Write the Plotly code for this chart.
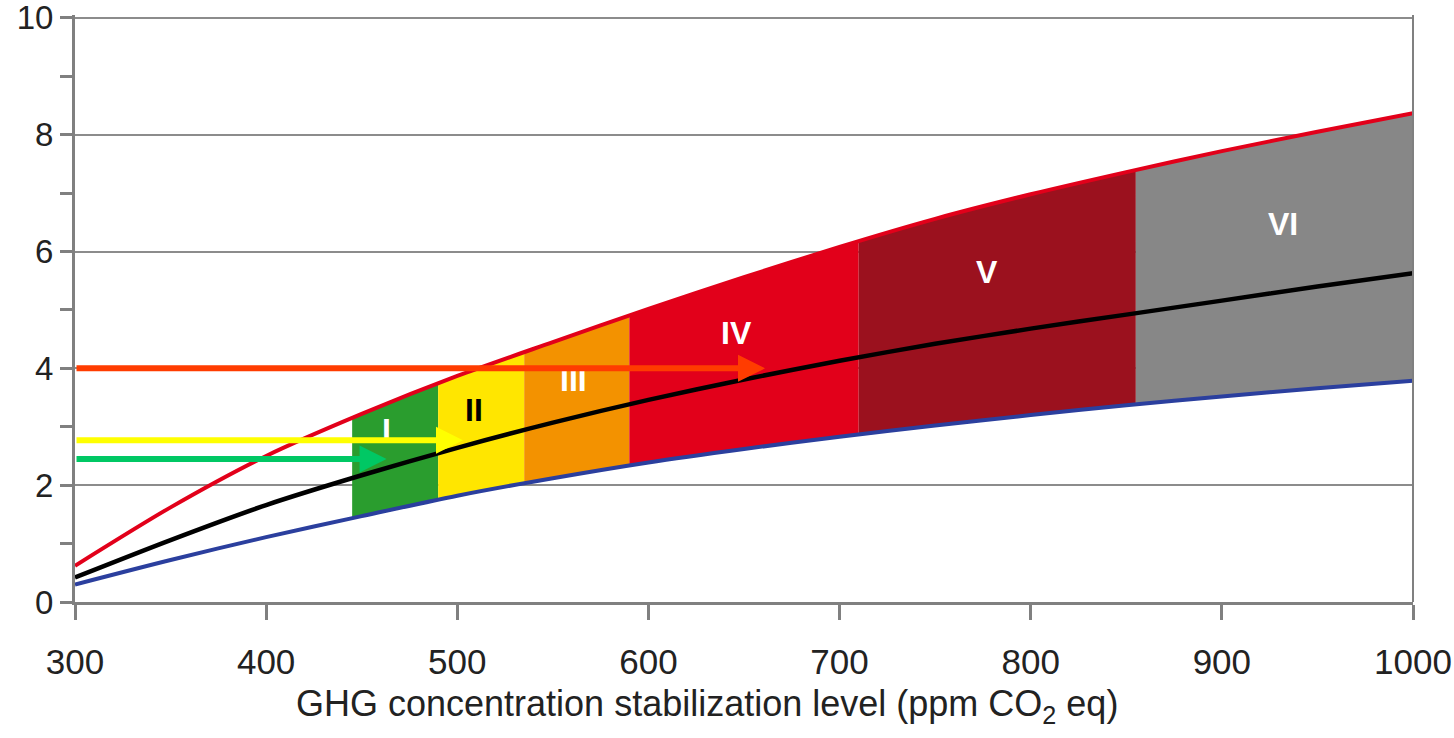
import numpy as np
import plotly.graph_objects as go

# ---- data ----
conc = [300, 350, 400, 450, 500, 550, 600, 650, 700, 750, 800, 850, 900, 950, 1000]
upper = [0.62, 1.62, 2.50, 3.22, 3.87, 4.45, 5.02, 5.56, 6.08, 6.56, 6.98, 7.36, 7.72, 8.05, 8.37]
best = [0.42, 1.06, 1.66, 2.17, 2.64, 3.07, 3.46, 3.81, 4.13, 4.42, 4.68, 4.92, 5.16, 5.40, 5.63]
lower = [0.30, 0.72, 1.11, 1.47, 1.82, 2.12, 2.39, 2.62, 2.83, 3.02, 3.20, 3.37, 3.52, 3.66, 3.79]

cat_names = ["I", "II", "III", "IV", "V", "VI"]
cat_bounds = [445, 490, 535, 590, 710, 855, 1000]
cat_colors = ["#2a9d2e", "#ffe600", "#f39200", "#e2001a", "#9b111e", "#878787"]
cat_label_colors = ["white", "black", "white", "white", "white", "white"]
cat_label_x = [463, 509, 561, 646, 777, 932]
cat_label_y = [2.95, 3.29, 3.80, 4.60, 5.65, 6.47]

arrow_y = [4.0, 2.77, 2.45]
arrow_tip_x = [661, 503, 463]
arrow_colors = ["#ff3c00", "#ffff00", "#00c864"]

x_ticks = [300, 400, 500, 600, 700, 800, 900, 1000]
y_ticks = [0, 2, 4, 6, 8, 10]

FONT = "Liberation Sans, Arial, sans-serif"
AXIS = "#808080"

fig = go.Figure()

# category bands between the lower and upper curves
for i, name in enumerate(cat_names):
    a, b = cat_bounds[i], cat_bounds[i + 1]
    inner = [c for c in conc if a < c < b]
    xs = [a] + inner + [b]
    up = list(np.interp(xs, conc, upper))
    lo = list(np.interp(xs, conc, lower))
    fig.add_trace(go.Scatter(
        x=xs + xs[::-1], y=up + lo[::-1], fill="toself", mode="lines",
        line=dict(width=0), fillcolor=cat_colors[i], hoverinfo="skip",
        showlegend=False))

line_shape = dict(shape="spline", smoothing=0.8)
fig.add_trace(go.Scatter(x=conc, y=upper, mode="lines",
                         line=dict(color="#e2001a", width=4, **line_shape), showlegend=False))
fig.add_trace(go.Scatter(x=conc, y=lower, mode="lines",
                         line=dict(color="#2b3f9e", width=4, **line_shape), showlegend=False))
fig.add_trace(go.Scatter(x=conc, y=best, mode="lines",
                         line=dict(color="black", width=4.5, **line_shape), showlegend=False))

annotations = []
for name, lx, ly, lc in zip(cat_names, cat_label_x, cat_label_y, cat_label_colors):
    annotations.append(dict(x=lx, y=ly, xref="x", yref="y", text="<b>%s</b>" % name,
                            showarrow=False, font=dict(family=FONT, size=32, color=lc)))

for ay, tx, col in zip(arrow_y, arrow_tip_x, arrow_colors):
    annotations.append(dict(x=tx, y=ay, ax=x_ticks[0], ay=ay, xref="x", yref="y",
                            axref="x", ayref="y", text="", showarrow=True,
                            arrowhead=2, arrowsize=0.9, arrowwidth=6,
                            arrowcolor=col))

annotations.append(dict(x=(707 - 75) / 1338, y=-0.178, xref="paper", yref="paper",
                        text="GHG concentration stabilization level (ppm CO<sub>2</sub> eq)",
                        showarrow=False, xanchor="center", yanchor="middle",
                        font=dict(family=FONT, size=36, color="#222222")))

fig.update_layout(
    width=1454, height=738,
    margin=dict(l=75, r=41, t=15, b=136, autoexpand=False),
    paper_bgcolor="white", plot_bgcolor="white",
    showlegend=False,
    annotations=annotations,
    shapes=[dict(type="line", xref="paper", yref="paper", x0=1, x1=1, y0=0, y1=1,
                 line=dict(color=AXIS, width=2), layer="above")],
    xaxis=dict(range=[300, 1000], tickvals=x_ticks, ticks="outside", ticklen=15,
               tickwidth=3, tickcolor=AXIS, showline=True, linecolor=AXIS,
               linewidth=3, showgrid=False, zeroline=False, automargin=False,
               ticklabeloverflow="allow", ticklabelstandoff=12,
               tickfont=dict(family=FONT, size=35, color="#222222")),
    yaxis=dict(range=[0, 10.05], tickvals=y_ticks, ticks="outside", ticklen=12,
               tickwidth=3, tickcolor=AXIS, showline=True, linecolor=AXIS,
               linewidth=3, showgrid=True, gridcolor="#8c8c8c", gridwidth=1.5,
               zeroline=False, automargin=False, ticklabeloverflow="allow",
               minor=dict(tickvals=[1, 3, 5, 7, 9], ticks="outside", ticklen=12,
                          tickwidth=3, tickcolor=AXIS, showgrid=False),
               tickfont=dict(family=FONT, size=33, color="#222222")),
)

# remove the browser's default 8px body margin so the figure fills the window exactly
fig.write_html("out.html", config={"displayModeBar": False},
               post_script="document.body.style.margin='0';document.body.style.overflow='hidden';")
